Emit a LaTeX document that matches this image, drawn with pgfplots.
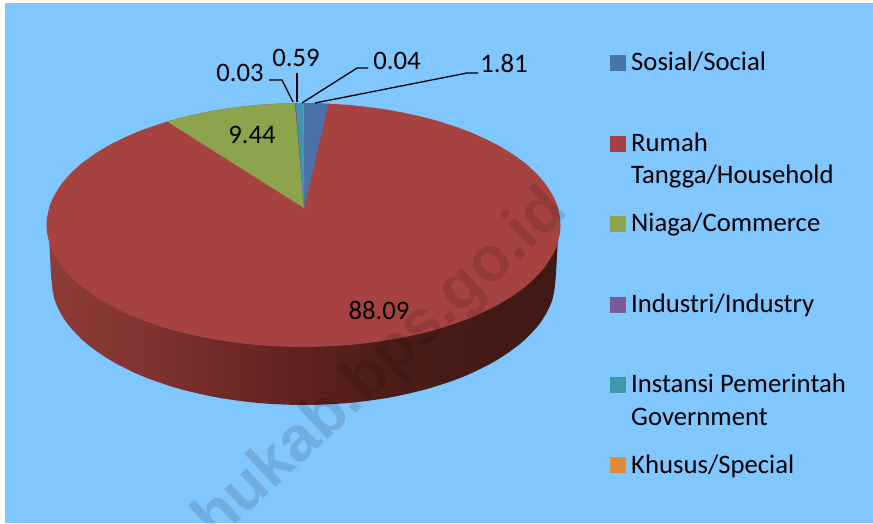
\documentclass[border=0pt]{standalone}
\usepackage{pgfplots}
\pgfplotsset{compat=1.18}
\usepackage{fontspec}
\setmainfont{Carlito}
\newfontfamily\wm{Liberation Sans}
\definecolor{bg}{HTML}{80C7FF}
\definecolor{cblue}{HTML}{4A72A8}
\definecolor{cred}{HTML}{A64340}
\definecolor{cgreen}{HTML}{8CA54C}
\definecolor{cpurple}{HTML}{7A5A96}
\definecolor{cteal}{HTML}{3F97AD}
\definecolor{corange}{HTML}{E08A3C}
\pgfdeclarehorizontalshading{sidegrad}{100bp}{
 rgb(0bp)=(0.56,0.23,0.22);
 rgb(25bp)=(0.56,0.23,0.22);
 rgb(35bp)=(0.50,0.20,0.19);
 rgb(50bp)=(0.37,0.13,0.125);
 rgb(60bp)=(0.29,0.11,0.095);
 rgb(75bp)=(0.25,0.10,0.085);
 rgb(100bp)=(0.25,0.10,0.085)}
\begin{document}
\begin{tikzpicture}
\begin{axis}[
 width=873pt,height=523pt,scale only axis,
 xmin=0,xmax=873,ymin=0,ymax=523,y dir=reverse,
 hide axis,clip=false,
]
% background
\addplot[draw=none,fill=white,forget plot] coordinates {(0,0)(873,0)(873,523)(0,523)} -- cycle;
\addplot[draw=none,fill=bg,forget plot] coordinates {(5,3)(873,3)(873,523)(5,523)} -- cycle;
% side of the pie
\addplot[draw=none,shading=sidegrad,smooth,forget plot] coordinates {
(49,235)(51.5,280)(55.3,301.7)(66.7,322.8)(85.3,342.5)(110.5,360.3)(141.5,375.8)(177.5,388.3)(217.3,397.5)(259.7,403.1)(303.5,405)(347.3,403.1)(389.7,397.5)(429.5,388.3)(465.5,375.8)(496.5,360.3)(521.7,342.5)(540.3,322.8)(551.7,301.7)(555.5,280)(558,235)} -- cycle;
% top: household, the whole disc
\addplot[draw=none,fill=cred,smooth cycle,forget plot] coordinates {
(560.5,225)(556.6,203.8)(545,183.3)(526.1,164)(500.4,146.6)(468.7,131.5)(432,119.3)(391.4,110.4)(348.1,104.9)(303.5,103)(258.9,104.9)(215.6,110.4)(175,119.3)(138.3,131.5)(106.6,146.6)(80.9,164)(62,183.3)(50.4,203.8)(46.5,225)(50.4,246.2)(62,266.7)(80.9,286)(106.6,303.4)(138.3,318.5)(175,330.7)(215.6,339.6)(258.9,345.1)(303.5,347)(348.1,345.1)(391.4,339.6)(432,330.7)(468.7,318.5)(500.4,303.4)(526.1,286)(545,266.7)(556.6,246.2)};
% commerce
\addplot[draw=none,fill=cgreen,forget plot] coordinates {(304,208)(168,122)(175,119.3)(195,114.5)(215.6,110.4)(237,107.2)(258.9,104.9)(280,103.6)(295,103.1)} -- cycle;
% government
\addplot[draw=none,fill=cteal,forget plot] coordinates {(304,208)(295.5,103.1)(303.5,103)} -- cycle;
% social
\addplot[draw=none,fill=cblue,forget plot] coordinates {(304,208)(303.5,103)(316,103.3)(328.5,104.2)} -- cycle;
% industry, special
\addplot[draw=none,fill=cpurple,forget plot] coordinates {(304,208)(295,103.1)(295.8,103.1)} -- cycle;
\addplot[draw=none,fill=corange,forget plot] coordinates {(304,208)(303.3,103)(303.8,103)} -- cycle;
% leaders
\addplot[black,line width=1.3pt,forget plot] coordinates {(269,80)(282,80)(293,102)};
\addplot[black,line width=1.3pt,forget plot] coordinates {(297,73)(297,102)};
\addplot[black,line width=1.3pt,forget plot] coordinates {(368,68)(357,68)(302,103)};
\addplot[black,line width=1.3pt,forget plot] coordinates {(478,73)(467,73)(315,103)};
% legend markers
\addplot[only marks,mark=square*,mark size=7.5pt,color=cblue,forget plot] coordinates {(617.5,62.5)};
\addplot[only marks,mark=square*,mark size=7.5pt,color=cred,forget plot] coordinates {(617.5,143.5)};
\addplot[only marks,mark=square*,mark size=7.5pt,color=cgreen,forget plot] coordinates {(617.5,223.5)};
\addplot[only marks,mark=square*,mark size=7.5pt,color=cpurple,forget plot] coordinates {(617.5,304.5)};
\addplot[only marks,mark=square*,mark size=7.5pt,color=cteal,forget plot] coordinates {(617.5,384.5)};
\addplot[only marks,mark=square*,mark size=7.5pt,color=corange,forget plot] coordinates {(617.5,464.5)};
% watermark
\begin{scope}
\clip (axis cs:0,0) rectangle (axis cs:873,523);
\node[anchor=base east,rotate=43,opacity=0.12,inner sep=0pt,font=\wm\bfseries\fontsize{63}{70}\selectfont] at (axis cs:570,213) {hukab.bps.go.id};
\end{scope}
\begin{scope}[every node/.style={font=\fontsize{26.7}{30}\selectfont,inner sep=0pt,text=black}]
\node[anchor=base west] at (axis cs:631,70) {Sosial/Social};
\node[anchor=base west] at (axis cs:631,151) {Rumah};
\node[anchor=base west] at (axis cs:631,183) {Tangga/Household};
\node[anchor=base west] at (axis cs:631,231) {Niaga/Commerce};
\node[anchor=base west] at (axis cs:631,312) {Industri/Industry};
\node[anchor=base west] at (axis cs:631,392) {Instansi Pemerintah};
\node[anchor=base west] at (axis cs:631,425) {Government};
\node[anchor=base west] at (axis cs:631,473) {Khusus/Special};
\node[anchor=base] at (axis cs:240,81) {0.03};
\node[anchor=base] at (axis cs:296,66) {0.59};
\node[anchor=base] at (axis cs:397,69) {0.04};
\node[anchor=base] at (axis cs:504,72) {1.81};
\node[anchor=base] at (axis cs:252,143) {9.44};
\node[anchor=base] at (axis cs:379,319) {88.09};
\end{scope}
\end{axis}
\pgfresetboundingbox
\path[use as bounding box] (0,0) rectangle (873pt,523pt);
\end{tikzpicture}
\end{document}
